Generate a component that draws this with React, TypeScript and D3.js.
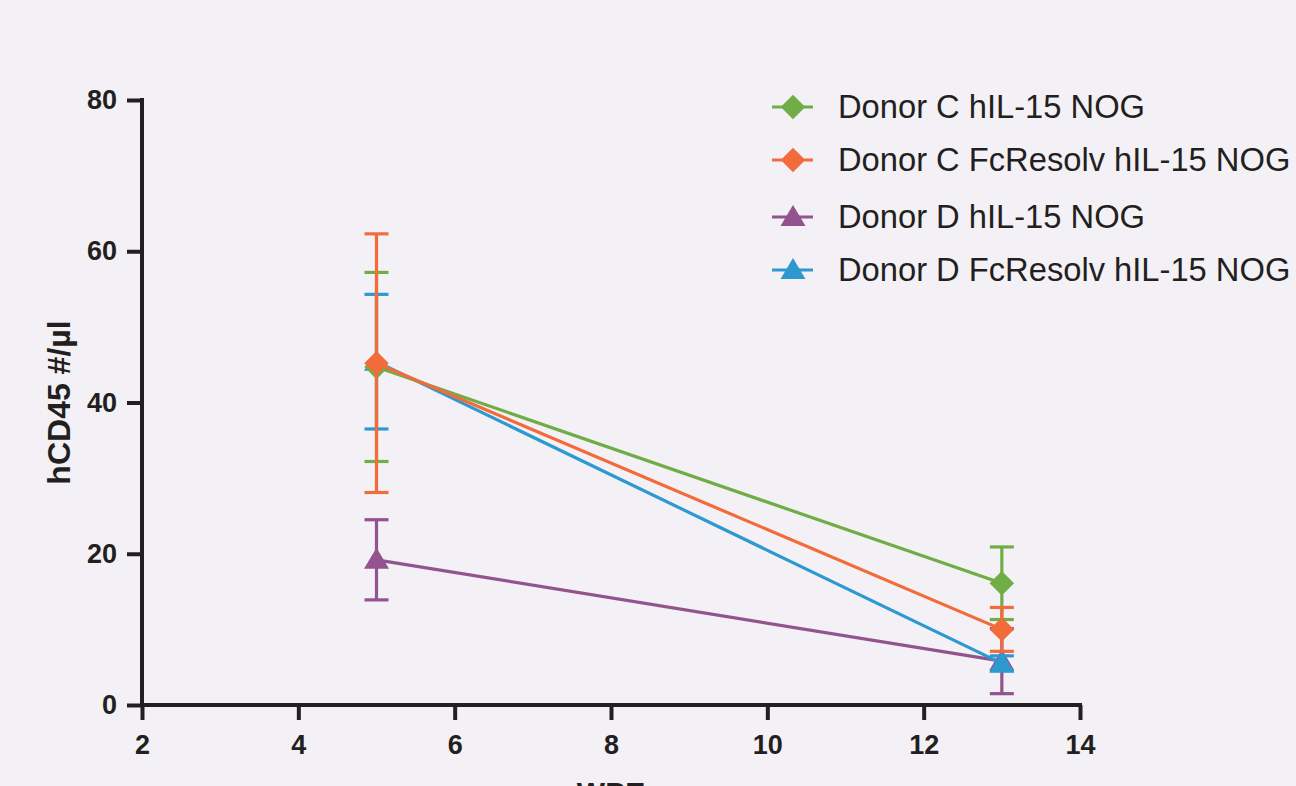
import React, { useEffect, useRef } from "react";
import * as d3 from "d3";

const weeks = [5, 13];
const seriesNames = [
  "Donor C hIL-15 NOG",
  "Donor C FcResolv hIL-15 NOG",
  "Donor D hIL-15 NOG",
  "Donor D FcResolv hIL-15 NOG",
];
const seriesColors = ["#70ad47", "#f26b3a", "#93538e", "#2e98d0"];
const seriesShapes = ["diamond", "diamond", "triangle", "triangle"];
const greenMean = [44.7, 16.1];
const greenErr = [12.5, 4.8];
const orangeMean = [45.2, 10.0];
const orangeErr = [17.1, 2.9];
const purpleMean = [19.2, 5.8];
const purpleErr = [5.3, 4.3];
const blueMean = [45.4, 5.5];
const blueErr = [8.9, 1.0];
const xTicks = [2, 4, 6, 8, 10, 12, 14];
const yTicks = [0, 20, 40, 60, 80];

const means = [greenMean, orangeMean, purpleMean, blueMean];
const errs = [greenErr, orangeErr, purpleErr, blueErr];
// draw order: purple, blue, green, orange
const drawOrder = [2, 3, 0, 1];

const W = 1296;
const H = 786;

const App: React.FC = () => {
  const svgRef = useRef<SVGSVGElement>(null);

  useEffect(() => {
    document.body.style.margin = "0";
    const svg = d3.select(svgRef.current);
    svg.selectAll("*").remove();

    svg.append("rect").attr("width", W).attr("height", H).attr("fill", "#f3f1f5");

    const x = d3.scaleLinear().domain([2, 14]).range([142, 1080]);
    const y = d3.scaleLinear().domain([0, 80]).range([705, 100]);

    const ink = "#231f20";
    const font = "Arial, 'Liberation Sans', sans-serif";

    // axes
    const xAxis = svg
      .append("g")
      .attr("transform", `translate(0,${y(0)})`)
      .call(d3.axisBottom(x).tickValues(xTicks).tickSize(15).tickSizeOuter(0).tickPadding(15));
    const yAxis = svg
      .append("g")
      .attr("transform", `translate(${x(2)},0)`)
      .call(d3.axisLeft(y).tickValues(yTicks).tickSize(15).tickSizeOuter(0).tickPadding(10));

    [xAxis, yAxis].forEach((g) => {
      g.select(".domain").attr("stroke", ink).attr("stroke-width", 4);
      g.selectAll(".tick line").attr("stroke", ink).attr("stroke-width", 4);
      g.selectAll(".tick text")
        .attr("fill", ink)
        .attr("font-family", font)
        .attr("font-weight", "bold")
        .attr("font-size", 27);
    });
    xAxis.select(".domain").attr("d", `M${x(2) - 2},0H${x(14) + 2}`);
    yAxis.select(".domain").attr("d", `M0,${y(80) - 2}V${y(0) + 2}`);
    xAxis.selectAll(".tick text").attr("dy", "0.71em");

    // axis titles (x title sits at the bottom edge, as in the source figure)
    svg
      .append("text")
      .attr("x", (x(2) + x(14)) / 2)
      .attr("y", 803)
      .attr("text-anchor", "middle")
      .attr("font-family", font)
      .attr("font-weight", "bold")
      .attr("font-size", 30)
      .attr("fill", ink)
      .text("WPE");

    svg
      .append("text")
      .attr("transform", `translate(70,${(y(0) + y(80)) / 2}) rotate(-90)`)
      .attr("text-anchor", "middle")
      .attr("font-family", font)
      .attr("font-weight", "bold")
      .attr("font-size", 32)
      .attr("fill", ink)
      .text("hCD45 #/µl");

    const diamond = d3.symbol().type(d3.symbolSquare).size(300);
    const triangle = "M0,-12L12.5,9L-12.5,9Z";

    const drawMarker = (g: any, shape: string, color: string, cx: number, cy: number) => {
      if (shape === "diamond") {
        g.append("path")
          .attr("d", diamond() || "")
          .attr("transform", `translate(${cx},${cy}) rotate(45)`)
          .attr("fill", color);
      } else {
        g.append("path")
          .attr("d", triangle)
          .attr("transform", `translate(${cx},${cy})`)
          .attr("fill", color);
      }
    };

    const line = d3
      .line<number>()
      .x((_, i) => x(weeks[i]))
      .y((d) => y(d));

    drawOrder.forEach((s) => {
      const g = svg.append("g");
      const color = seriesColors[s];
      weeks.forEach((w, i) => {
        const top = y(means[s][i] + errs[s][i]);
        const bot = y(means[s][i] - errs[s][i]);
        const cx = x(w);
        g.append("line")
          .attr("x1", cx).attr("x2", cx).attr("y1", top).attr("y2", bot)
          .attr("stroke", color).attr("stroke-width", 3.2);
        [top, bot].forEach((cy) =>
          g.append("line")
            .attr("x1", cx - 12).attr("x2", cx + 12).attr("y1", cy).attr("y2", cy)
            .attr("stroke", color).attr("stroke-width", 3.2)
        );
      });
      g.append("path")
        .attr("d", line(means[s]) || "")
        .attr("fill", "none")
        .attr("stroke", color)
        .attr("stroke-width", 3.2);
      weeks.forEach((w, i) => drawMarker(g, seriesShapes[s], color, x(w), y(means[s][i])));
    });

    // legend
    const legendY = [107, 160, 217, 270];
    seriesNames.forEach((name, s) => {
      const g = svg.append("g");
      const ly = legendY[s];
      g.append("line")
        .attr("x1", 772).attr("x2", 813).attr("y1", ly).attr("y2", ly)
        .attr("stroke", seriesColors[s]).attr("stroke-width", 3.2);
      drawMarker(g, seriesShapes[s], seriesColors[s], 793, ly);
      g.append("text")
        .attr("x", 838)
        .attr("y", ly)
        .attr("dy", "0.35em")
        .attr("font-family", font)
        .attr("font-size", 32.7)
        .attr("fill", ink)
        .text(name);
    });
  }, []);

  return <svg ref={svgRef} width={W} height={H} style={{ display: "block" }} />;
};

export default App;
